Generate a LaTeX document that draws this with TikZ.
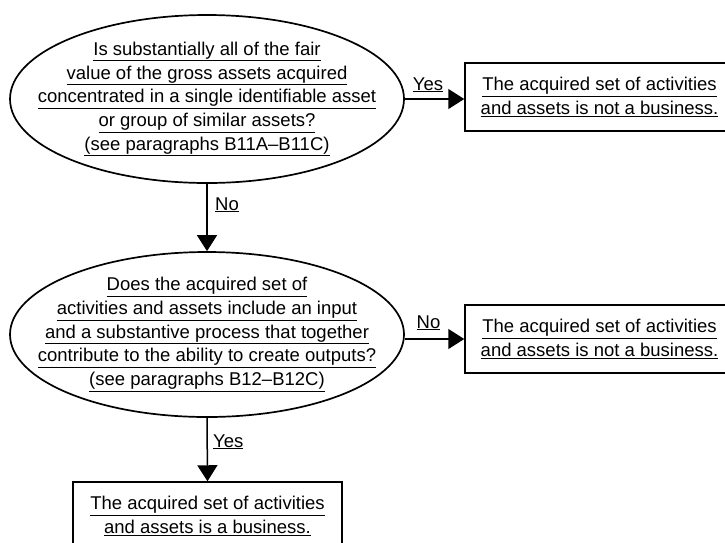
\documentclass[tikz,border=0pt]{standalone}
\usepackage{fontspec}
\setmainfont{Liberation Sans}
\usetikzlibrary{arrows.meta,shapes.geometric}
\newcommand\ulx[1]{\underline{#1}}
\begin{document}
\begin{tikzpicture}[x=1pt,y=-1pt,
  txt/.style={font=\fontsize{18.5}{23.7}\selectfont, align=center, inner sep=0pt},
  dec/.style={draw, line width=1.7pt, ellipse, minimum width=394pt, minimum height=168pt, inner sep=0pt},
  res/.style={draw, line width=1.5pt, minimum width=269pt, minimum height=68pt, inner sep=0pt, align=center, font=\fontsize{18.5}{23.3}\selectfont},
  arr/.style={line width=1.5pt, -{Triangle[length=16pt,width=20pt]}},
  lab/.style={font=\fontsize{18.5}{22}\selectfont, inner sep=0pt}
]
\useasboundingbox (0,0) rectangle (725,542);
\clip (0,0) rectangle (725,542);

\node[dec] (q1) at (207,99) {};
\node[txt] (q1t) at (q1.center) {\ulx{Is substantially all of the fair}\\
  \ulx{value of the gross assets acquired}\\
  \ulx{concentrated in a single identifiable asset}\\
  \ulx{or group of similar assets?}\\
  \ulx{(see paragraphs B11A–B11C)}};

\node[dec, minimum height=165pt] (q2) at (207,334.5) {};
\node[txt] (q2t) at (q2.center) {\ulx{Does the acquired set of}\\
  \ulx{activities and assets include an input}\\
  \ulx{and a substantive process that together}\\
  \ulx{contribute to the ability to create outputs?}\\
  \ulx{(see paragraphs B12–B12C)}};

\node[res] (b1) at (599.5,97) {\ulx{The acquired set of activities}\\ \ulx{and assets is not a business.}};
\node[res] (b2) at (599.5,339) {\ulx{The acquired set of activities}\\ \ulx{and assets is not a business.}};
\node[res] (b3) at (207.5,516) {\ulx{The acquired set of activities}\\ \ulx{and assets is a business.}};

\draw[arr] (q1.east) -- (q1.east -| b1.west);
\draw[arr] (q2.east |- b2.west) -- (b2.west);
\draw[arr] (q1.south) -- (q2.north);
\draw[arr] (q2.south) -- (b3.north);

\node[lab, anchor=base] (l1) at (428,90) {\ulx{Yes}};
\node[lab, anchor=base] (l2) at (428.5,328) {\ulx{No}};
\node[lab, anchor=base west] (l3) at (215,210) {\ulx{No}};
\node[lab, anchor=base west] (l4) at (213,447) {\ulx{Yes}};
\end{tikzpicture}
\end{document}
